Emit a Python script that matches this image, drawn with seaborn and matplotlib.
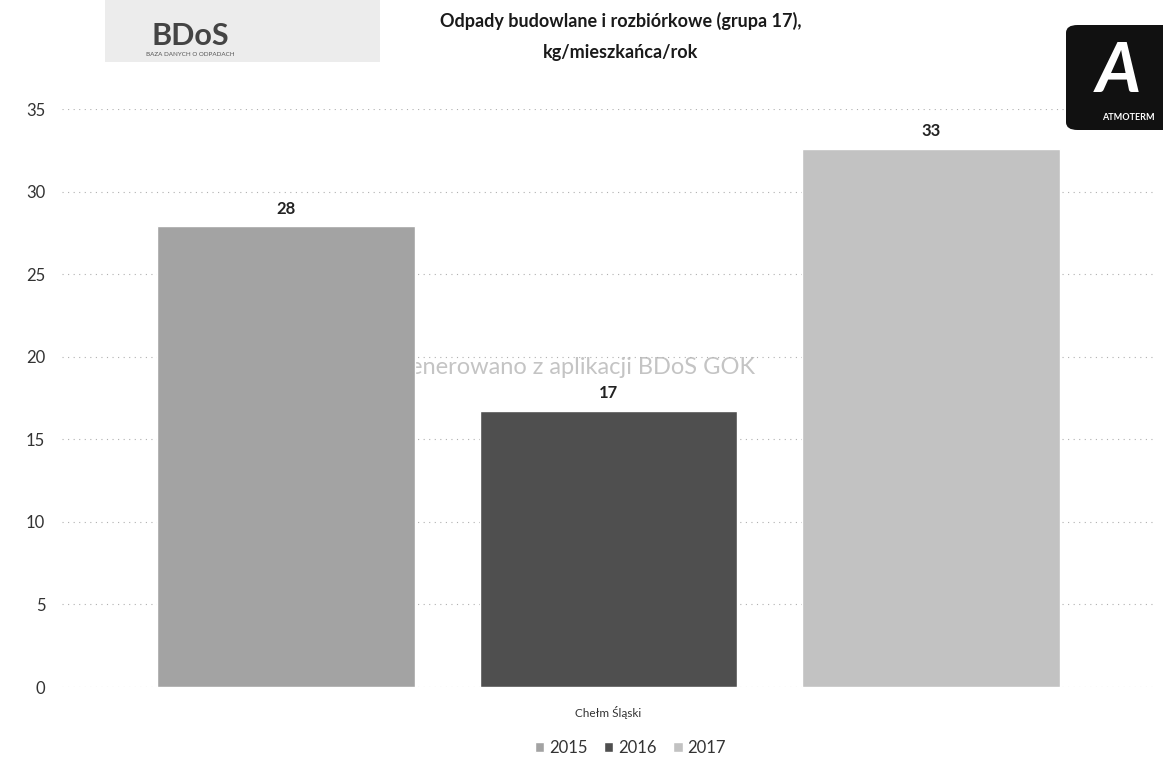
import matplotlib
matplotlib.use("Agg")
import matplotlib.pyplot as plt
from matplotlib.patches import FancyBboxPatch, Rectangle
import numpy as np
import pandas as pd
import seaborn as sns

# dane z wykresu
gmina = ["Chełm Śląski"]
lata = ["2015", "2016", "2017"]
wartosci = [27.9, 16.7, 32.6]
kolory = ["#a3a3a3", "#4f4f4f", "#c2c2c2"]
y_ticks = [0, 5, 10, 15, 20, 25, 30, 35]

df = pd.DataFrame({"gmina": gmina * len(lata), "rok": lata, "kg": wartosci})

sns.set_theme(style="white")
plt.rcParams['font.family'] = ['Lato', 'DejaVu Sans']

fig = plt.figure(figsize=(11.63, 7.69), dpi=100)
ax = fig.add_axes([62 / 1163, 1 - 687 / 769, 1093 / 1163, 578 / 769])

# znak wodny pod slupkami
ax.text(0.634, 0.552, "Wygenerowano z aplikacji BDoS GOK", transform=ax.transAxes,
        ha="right", va="center", fontsize=17, color="#c4c4c4", zorder=0.5)

sns.barplot(data=df, x="gmina", y="kg", hue="rok", palette=kolory,
            width=0.885, gap=0.2, ax=ax, zorder=2, legend=True)

for cont in ax.containers:
    ax.bar_label(cont, fmt="%.0f", padding=7, fontsize=12, fontweight="bold", color="#222222")

ax.set_ylim(0, 35)
ax.set_xlim(-0.5, 0.5)
ax.set_yticks(y_ticks)
ax.yaxis.grid(True, linestyle=(0, (1, 4)), color="#b0b0b0", linewidth=0.8)
ax.set_axisbelow(True)
for s in ax.spines.values():
    s.set_visible(False)
ax.tick_params(axis="y", labelsize=12, colors="#333333", pad=12, length=0)
ax.tick_params(axis="x", labelsize=8.5, colors="#333333", pad=14, length=0)
ax.set_xlabel("")
ax.set_ylabel("")

leg = ax.legend(loc="upper center", bbox_to_anchor=(0.52, -0.065), ncol=3, frameon=False,
                fontsize=12, handlelength=0.55, handleheight=0.55, handletextpad=0.3,
                columnspacing=1.0)
for t in leg.get_texts():
    t.set_color("#333333")

fig.text(0.534, 0.985, "Odpady budowlane i rozbiórkowe (grupa 17),\nkg/mieszkańca/rok",
         ha="center", va="top", fontsize=13, fontweight="bold", color="#1a1a1a",
         linespacing=2.0)

# logo BDoS (lewy gorny rog)
fig.patches.append(Rectangle((105 / 1163, 1 - 62 / 769), 275 / 1163, 62 / 769,
                             transform=fig.transFigure, facecolor="#ececec", edgecolor="none"))
fig.text(190 / 1163, 1 - 36 / 769, "BDoS", ha="center", va="center", fontsize=22,
         fontweight="bold", color="#444444")
fig.text(190 / 1163, 1 - 55 / 769, "BAZA DANYCH O ODPADACH", ha="center", va="center",
         fontsize=4.5, color="#555555")

# logo ATMOTERM (prawy gorny rog)
fig.patches.append(FancyBboxPatch((1066 / 1163, 1 - 130 / 769), 110 / 1163, 105 / 769,
                                  boxstyle="round,pad=0,rounding_size=0.01",
                                  transform=fig.transFigure, facecolor="#111111",
                                  edgecolor="none"))
fig.text(1118 / 1163, 1 - 72 / 769, "A", ha="center", va="center", fontsize=50,
         fontweight="bold", fontstyle="italic", color="white")
fig.text(1102 / 1163, 1 - 118 / 769, "ATMOTERM", ha="left", va="center", fontsize=6.5,
         fontweight="bold", color="white")

fig.savefig("out.png", dpi=100, facecolor="white")
